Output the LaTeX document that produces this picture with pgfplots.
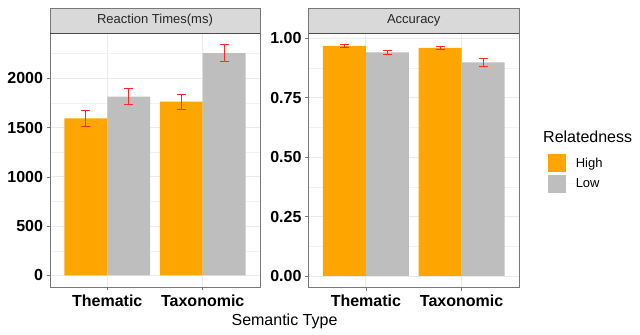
\documentclass[border=0pt]{standalone}
\usepackage{pgfplots}
\pgfplotsset{compat=1.18}
\usepackage{fontspec}
\setmainfont{Liberation Sans}
\definecolor{barorange}{RGB}{255,165,0}
\definecolor{bargray}{RGB}{190,190,190}
\definecolor{stripgray}{RGB}{217,217,217}
\definecolor{gridmaj}{RGB}{235,235,235}
\definecolor{gridmin}{RGB}{242,242,242}
\definecolor{bordergray}{RGB}{120,120,120}
\definecolor{errred}{RGB}{255,40,40}
\pgfplotsset{
  panel/.style={
    scale only axis,
    anchor=south west,
    width=210bp, height=254bp,
    xmin=0.4, xmax=2.6,
    xtick={1,2}, xticklabels={Thematic,Taxonomic},
    xtick pos=bottom, ytick pos=left,
    grid=both,
    major grid style={color=gridmaj, line width=0.9bp},
    minor grid style={color=gridmin, line width=0.5bp},
    axis line style={bordergray, line width=0.8bp},
    tick style={bordergray, line width=0.8bp},
    tick align=outside,
    major tick length=3.5bp,
    minor tick length=0bp,
    ticklabel style={font=\fontsize{16bp}{18bp}\selectfont\bfseries, text=black},
    /pgf/number format/assume math mode=true,
    xticklabel style={yshift=-1bp},
    ybar, bar width=0.45,
    axis on top=false,
  },
  hibar/.style={fill=barorange, draw=none, bar shift=0pt,
    error bars/.cd, y dir=both, y explicit,
    error bar style={errred, line width=0.8bp},
    error mark options={errred, mark size=4.5bp, line width=0.8bp, rotate=90}},
  lobar/.style={fill=bargray, draw=none, bar shift=0pt,
    error bars/.cd, y dir=both, y explicit,
    error bar style={errred, line width=0.8bp},
    error mark options={errred, mark size=4.5bp, line width=0.8bp, rotate=90}},
}
\begin{document}
\begin{tikzpicture}
\useasboundingbox (0,0) rectangle (640bp,335bp);
% Left panel
\begin{axis}[panel, at={(50bp,48bp)},
  ymin=-117, ymax=2460,
  ytick={0,500,1000,1500,2000}, yticklabels={0,500,1000,1500,2000},
  minor ytick={250,750,1250,1750,2250}]
\addplot[hibar] coordinates {(0.775,1595) +- (0,78) (1.775,1763) +- (0,79)};
\addplot[lobar] coordinates {(1.225,1814) +- (0,79) (2.225,2255) +- (0,88)};
\end{axis}
% Right panel
\begin{axis}[panel, at={(308.5bp,48bp)}, width=210.5bp,
  ymin=-0.0465, ymax=1.0227,
  ytick={0,0.25,0.5,0.75,1}, yticklabels={0.00,0.25,0.50,0.75,1.00},
  minor ytick={0.125,0.375,0.625,0.875},
  legend style={at={(1.1215,0.5315)}, anchor=north west, draw=none, fill=none,
    font=\fontsize{13bp}{15bp}\selectfont, row sep=2.5bp,
    nodes={inner sep=0pt}},
  legend cell align=left,
  legend image code/.code={\path[#1, draw=none] (0bp,-9bp) rectangle (18.5bp,9bp); \path (18.5bp,0) -- (28bp,0);}]
\addplot[hibar] coordinates {(0.775,0.968) +- (0,0.006) (1.775,0.960) +- (0,0.006)};
\addplot[lobar] coordinates {(1.225,0.941) +- (0,0.009) (2.225,0.899) +- (0,0.015)};
\legend{High,Low}
\end{axis}
% Strips
\draw[fill=stripgray, draw=bordergray, line width=0.8bp] (50bp,302bp) rectangle (260bp,327bp);
\draw[black!70, line width=0.8bp] (50bp,302bp) -- (260bp,302bp);
\node[font=\fontsize{13bp}{15bp}\selectfont, text=black!85] at (155bp,314.5bp) {Reaction Times(ms)};
\draw[fill=stripgray, draw=bordergray, line width=0.8bp] (308.5bp,302bp) rectangle (519bp,327bp);
\draw[black!70, line width=0.8bp] (308.5bp,302bp) -- (519bp,302bp);
\node[font=\fontsize{13bp}{15bp}\selectfont, text=black!85] at (413.75bp,314.5bp) {Accuracy};
% Titles
\node[anchor=base, font=\fontsize{16bp}{18bp}\selectfont] at (284.5bp,10bp) {Semantic Type};
\node[anchor=west, inner sep=0pt, font=\fontsize{16bp}{18bp}\selectfont] at (543bp,198bp) {Relatedness};
\end{tikzpicture}
\end{document}
